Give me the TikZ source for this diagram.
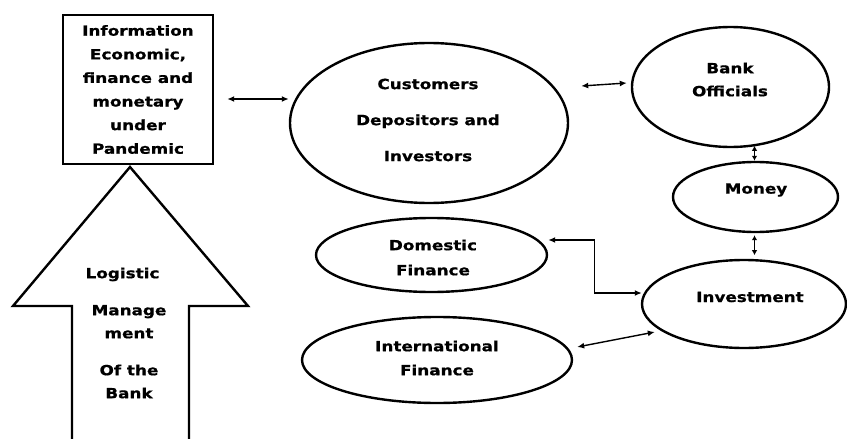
\documentclass[tikz,border=0pt]{standalone}
\usepackage{fontspec}
\newfontfamily\lbl{DejaVu Sans}[FakeStretch=1.2,FakeBold=0.8]
\usetikzlibrary{shapes.geometric,arrows.meta,calc}
\begin{document}
\begin{tikzpicture}[x=1pt,y=-1pt,
  shape line/.style={draw=black,line width=2.4pt},
  oval/.style={shape line,ellipse,inner sep=0pt},
  lab/.style={font=\lbl\bfseries\fontsize{14}{#1}\selectfont,align=center,inner sep=0pt},
  link/.style={line width=1.4pt,{Latex[length=7pt,width=6pt]}-{Latex[length=7pt,width=6pt]}},
  shortlink/.style={line width=1.4pt,{Latex[length=5pt,width=5.5pt]}-{Latex[length=5pt,width=5.5pt]}}]
\useasboundingbox (0,0) rectangle (847,439);

% information box
\node[shape line, rectangle, minimum width=150pt, minimum height=149pt, lab=23.6]
  (info) at (138,89.5) {Information\\Economic,\\finance and\\monetary\\under\\Pandemic};

% block arrow pointing up at the box
\draw[shape line, line join=miter] (130,167) -- (248,306) -- (189,306) -- (189,450)
  -- (72,450) -- (72,306) -- (13,306) -- cycle;
\node[lab=23] (logistic) at (129,333)
  {Logistic\hspace*{13pt}\\[14pt]Manage\\ment\\[14pt]Of the\\Bank};

% ovals
\node[oval, minimum width=278pt, minimum height=160pt] (cust) at (429,123) {};
\node[oval, minimum width=197pt, minimum height=120pt] (bank) at (730.5,87) {};
\node[oval, minimum width=165pt, minimum height=70pt] (money) at (755.5,197) {};
\node[oval, minimum width=204pt, minimum height=88pt] (invest) at (744,304) {};
\node[oval, minimum width=231pt, minimum height=74pt] (dom) at (431.5,255) {};
\node[oval, minimum width=270pt, minimum height=86pt] (intl) at (437,360) {};

% oval texts
\node[lab=36] (custtext) at (428,120) {Customers\\Depositors and\\Investors};
\node[lab=23] (banktext) at (730,79.5) {Bank\\Officials};
\node[lab=23] (moneytext) at (756,190) {Money};
\node[lab=23] (investtext) at (750,297) {Investment};
\node[lab=25] (domtext) at (433,257.5) {Domestic\\Finance};
\node[lab=24] (intltext) at (437,358) {International\\Finance};

% connectors
\draw[link] ($(info.east)+(13,9.5)$) -- ($(cust.west)+(0,-24)$);
\draw[link] ($(cust.east)+(12,-37)$) -- ($(bank.west)+(-4,-4)$);
\draw[shortlink] ($(money.north)+(-1,-15)$) -- ($(money.north)+(-1,0)$);
\draw[shortlink] ($(money.south)+(-1,2)$) -- ($(money.south)+(-1,22)$);
\draw[link] ($(dom.east)+(0,-15)$) -- ++(46,0) |- ($(invest.west)+(1,-11)$);
\draw[link] ($(intl.east)+(4,-13)$) -- ($(invest.west)+(14,28)$);
\end{tikzpicture}
\end{document}
